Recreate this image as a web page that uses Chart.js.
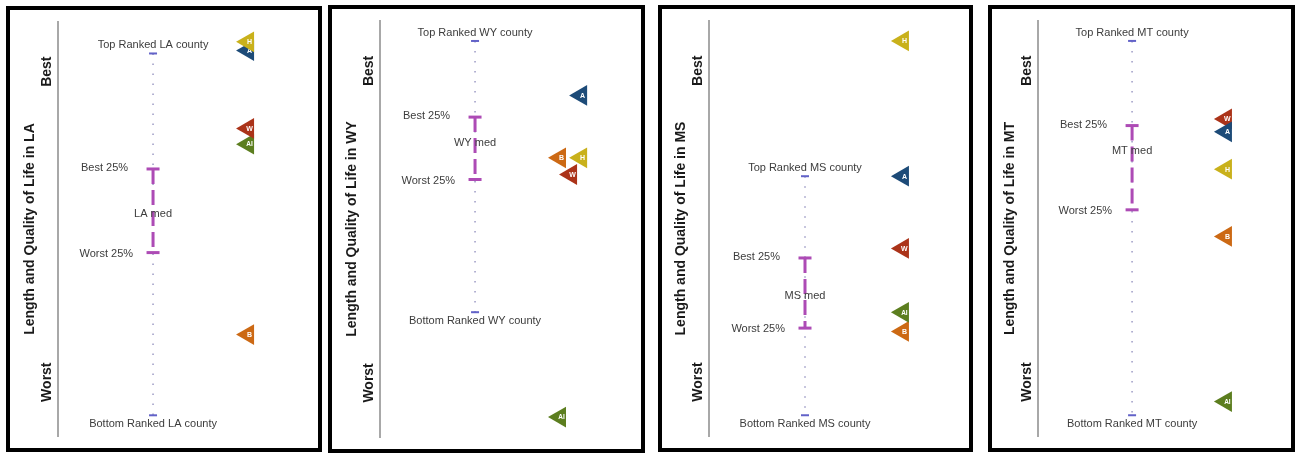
<!DOCTYPE html>
<html>
<head>
<meta charset="utf-8">
<title>Length and Quality of Life by state</title>
<script src="https://cdn.jsdelivr.net/npm/chart.js@4.4.1/dist/chart.umd.min.js"></script>
<style>
    body { margin: 0; background: #fff; width: 1296px; height: 470px; position: relative; overflow: hidden; }
    .panel { position: absolute; border: 4px solid #000; box-sizing: border-box; background: #fff; }
    .panel canvas { display: block; }
</style>
</head>
<body>
<div class="panel" id="panel-0"><canvas id="chart-0"></canvas></div>
<div class="panel" id="panel-1"><canvas id="chart-1"></canvas></div>
<div class="panel" id="panel-2"><canvas id="chart-2"></canvas></div>
<div class="panel" id="panel-3"><canvas id="chart-3"></canvas></div>
<script>
// ---- data ----
const states = ['LA', 'WY', 'MS', 'MT'];
const groupCodes = ['H', 'A', 'W', 'AI', 'B'];
const axisTickLabels = ['Best', 'Worst'];
const axisTickValues = [12, 87];

// rank scale: 0 = best end of the axis, 100 = worst end
const topCounty    = [7.6, 4.8, 37.4, 4.8];
const best25       = [35.5, 23.1, 57.1, 25.2];
const stateMedian  = [46.4, 29.3, 66.2, 31.2];
const worst25      = [55.7, 38.1, 74.0, 45.5];
const bottomCounty = [95.0, 70.0, 95.0, 95.0];

// group ranks, one value per state (same order as states)
const rankH  = [4.8, 32.9, 4.8, 35.7];
const rankA  = [6.9, 17.9, 37.4, 26.7];
const rankW  = [25.7, 36.9, 54.8, 23.6];
const rankAI = [29.5, 95.2, 70.2, 91.7];
const rankB  = [75.5, 32.9, 74.8, 51.9];

// column on the 0-100 x scale (groups are nudged apart where they overlap)
const countyCol = [39.6, 39.6, 40.0, 39.2];
const colH  = [79.2, 83.8, 80.8, 78.3];
const colA  = [79.2, 83.8, 80.8, 78.3];
const colW  = [79.2, 79.6, 80.8, 78.3];
const colAI = [79.2, 75.0, 80.8, 78.3];
const colB  = [79.2, 75.0, 80.8, 78.3];

// ---- styling / layout ----
const groupColors = ['#c9b11b', '#1d4b78', '#ab3319', '#5c7e1f', '#cc6914'];
const groupRanks = [rankH, rankA, rankW, rankAI, rankB];
const groupCols = [colH, colA, colW, colAI, colB];
const purple = '#ad4bb5';
const FONT = '"Liberation Sans", Arial, Helvetica, sans-serif';

// outer box of each panel: left, top, width, height; plus y axis width
const boxes = [
    {left: 6,   top: 6, w: 316, h: 446, axisW: 48},
    {left: 328, top: 5, w: 317, h: 448, axisW: 48},
    {left: 658, top: 5, w: 315, h: 447, axisW: 47},
    {left: 988, top: 5, w: 307, h: 447, axisW: 46}
];
const PLOT_TOP = 18, PLOT_BOTTOM = 438, PLOT_W = 240;

Chart.defaults.font.family = FONT;

const rankLabels = {
    id: 'rankLabels',
    afterDatasetDraw(chart, args, opts) {
        // letter inside each group triangle, drawn right after its own triangle
        const ds = chart.data.datasets[args.index];
        if (!ds.groupCode) return;
        const ctx = chart.ctx;
        ctx.save();
        ctx.fillStyle = '#ffffff';
        ctx.font = 'bold ' + (ds.groupCode.length > 1 ? 6.5 : 7) + 'px ' + FONT;
        ctx.textAlign = 'center';
        ctx.textBaseline = 'middle';
        args.meta.data.forEach((pt) => ctx.fillText(ds.groupCode, pt.x + 1.5, pt.y + 0.5));
        ctx.restore();
    },
    afterDatasetsDraw(chart, args, opts) {
        const i = opts.index;
        const st = states[i];
        const {ctx, scales: {x, y}} = chart;
        const cx = x.getPixelForValue(countyCol[i]);
        ctx.save();
        ctx.fillStyle = '#3c3c3c';
        ctx.font = '11px ' + FONT;
        ctx.textBaseline = 'middle';
        ctx.textAlign = 'center';
        ctx.fillText(`Top Ranked ${st} county`, cx, y.getPixelForValue(topCounty[i]) - 8);
        ctx.fillText(`Bottom Ranked ${st} county`, cx, y.getPixelForValue(bottomCounty[i]) + 9);
        ctx.fillText(`${st} med`, cx, y.getPixelForValue(stateMedian[i]));
        ctx.textAlign = 'right';
        ctx.fillText('Best 25%', cx - 25, y.getPixelForValue(best25[i]) - 1);
        ctx.fillText('Worst 25%', cx - 20, y.getPixelForValue(worst25[i]) + 1);

        // "Best" / "Worst" along the y axis
        ctx.fillStyle = '#1a1a1a';
        ctx.font = 'bold 14px ' + FONT;
        ctx.textAlign = 'center';
        axisTickValues.forEach((v, k) => {
            ctx.save();
            ctx.translate(y.right - 11, y.getPixelForValue(v));
            ctx.rotate(-Math.PI / 2);
            ctx.fillText(axisTickLabels[k], 0, 0);
            ctx.restore();
        });
        ctx.restore();
    }
};

function buildDatasets(i) {
    const cx = countyCol[i];
    const sets = groupCodes.map((code, g) => ({
        label: code,
        groupCode: code,
        data: [{x: groupCols[g][i], y: groupRanks[g][i]}],
        pointStyle: 'triangle',
        rotation: -90,
        pointRadius: 12,
        backgroundColor: groupColors[g],
        borderColor: groupColors[g],
        borderWidth: 0
    }));
    sets.push({
        label: 'quartile caps',
        data: [{x: cx, y: best25[i]}, {x: cx, y: worst25[i]}],
        pointStyle: 'line',
        pointRadius: 6.5,
        borderColor: purple,
        borderWidth: 3
    });
    sets.push({
        label: 'middle 50%',
        data: [{x: cx, y: best25[i]}, {x: cx, y: worst25[i]}],
        showLine: true,
        borderColor: purple,
        borderWidth: 3,
        borderDash: [15, 6],
        pointRadius: 0
    });
    sets.push({
        label: 'county ends',
        data: [{x: cx, y: topCounty[i]}, {x: cx, y: bottomCounty[i]}],
        pointStyle: 'line',
        pointRadius: 4,
        borderColor: '#6262c8',
        borderWidth: 2
    });
    sets.push({
        label: 'county range',
        data: [{x: cx, y: topCounty[i]}, {x: cx, y: bottomCounty[i]}],
        showLine: true,
        borderColor: '#a2a0c8',
        borderWidth: 1.6,
        borderDash: [1.6, 8.4],
        pointRadius: 0
    });
    return sets;
}

function loadPanel(i) {
    const b = boxes[i];
    const panel = document.getElementById('panel-' + i);
    Object.assign(panel.style, {left: b.left + 'px', top: b.top + 'px', width: b.w + 'px', height: b.h + 'px'});
    const cw = b.w - 8, ch = b.h - 8;
    const canvas = document.getElementById('chart-' + i);
    canvas.width = cw;
    canvas.height = ch;
    canvas.style.width = cw + 'px';
    canvas.style.height = ch + 'px';

    new Chart(canvas.getContext('2d'), {
        type: 'scatter',
        data: {datasets: buildDatasets(i)},
        options: {
            responsive: false,
            animation: false,
            devicePixelRatio: 1,
            clip: false,
            layout: {
                padding: {
                    left: 0,
                    top: PLOT_TOP - (b.top + 4),
                    bottom: (b.top + 4 + ch) - PLOT_BOTTOM,
                    right: cw - b.axisW - PLOT_W
                }
            },
            plugins: {
                legend: {display: false},
                tooltip: {enabled: false},
                rankLabels: {index: i}
            },
            scales: {
                x: {type: 'linear', min: 0, max: 100, display: false},
                y: {
                    type: 'linear',
                    min: 0,
                    max: 100,
                    reverse: true,
                    grid: {display: false},
                    border: {display: true, color: '#a8a8a8', width: 2},
                    ticks: {display: false},
                    title: {
                        display: true,
                        text: `Length and Quality of Life in ${states[i]}`,
                        color: '#1a1a1a',
                        font: {size: 14, weight: 'bold'},
                        padding: {top: b.axisW - 28 - 8.4, bottom: 0}
                    },
                    afterFit(scale) { scale.width = b.axisW; }
                }
            }
        },
        plugins: [rankLabels]
    });
}

window.addEventListener('load', () => {
    states.forEach((st, i) => loadPanel(i));
});
</script>
</body>
</html>
